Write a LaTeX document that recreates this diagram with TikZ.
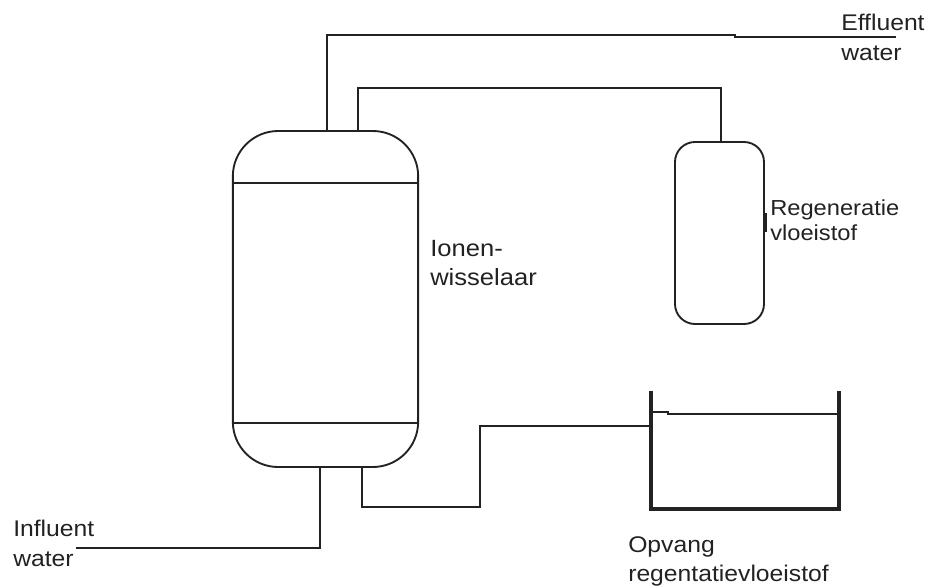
\documentclass[tikz,border=0pt]{standalone}
\usepackage{fontspec}
\setmainfont{Liberation Sans}[FakeStretch=1.09]
\usepackage{xcolor}
\usetikzlibrary{positioning}
\definecolor{ink}{HTML}{222222}
\tikzset{
  vessel/.style={draw=ink, line width=1.4pt, rounded corners=#1, inner sep=0pt, outer sep=0pt},
  pipe/.style={draw=ink, line width=1.4pt},
  wall/.style={draw=ink, line width=2.7pt},
  tag/.style={font=\fontsize{17pt}{22pt}\selectfont, align=left, anchor=north west, inner sep=0pt, text=ink},
}

\begin{document}
\begin{tikzpicture}[x=0.75pt, y=-0.75pt]
  \useasboundingbox (0,0) rectangle (927,585);

  % vessels
  \node[vessel=34pt, minimum width=139pt, minimum height=252pt] (ionen) at (325.5,299) {};
  \node[vessel=15pt, minimum width=66.75pt, minimum height=136.5pt] (regen) at (719.5,233) {};
  \coordinate (bandtop) at (325,183);
  \coordinate (bandlow) at (325,423);
  \draw[pipe] (ionen.west |- bandtop) -- (ionen.east |- bandtop);
  \draw[pipe] (ionen.west |- bandlow) -- (ionen.east |- bandlow);

  % tank
  \coordinate (tankleft) at (651,391);
  \coordinate (tankright) at (839,391);
  \coordinate (tankbase) at (651,509);
  \coordinate (tankinlet) at (651,426);
  \draw[wall] (tankleft) -- (tankbase) -- (tankright |- tankbase) -- (tankright);
  \draw[pipe, line width=1.1pt] (652,412) -- (668,412) -- (668,414) -- (839,414);

  % outlet tick
  \draw[wall] (765,213) -- (765,232);

  % labels
  \node[tag] (effluent) at (841,14) {Effluent\\water};
  \node[tag, font=\fontsize{16.3pt}{18.75pt}\selectfont] (regenlabel) at (770,199) {Regeneratie\\vloeistof};
  \node[tag, font=\fontsize{17.6pt}{22pt}\selectfont] (wisselaar) at (430,240) {Ionen-\\wisselaar};
  \node[tag] (opvang) at (628,536) {Opvang\\regentatievloeistof};
  \node[tag] (influent) at (13,520) {Influent\\water};
  \coordinate (effend) at (896,37);
  \coordinate (infend) at (76,548);

  % pipes
  \draw[pipe] (327,131) -- (327,35) -- (735,35) -- (735,37) -- (effend);
  \draw[pipe] (358,131) -- (358,88) -- (721,88) -- (721,142);
  \draw[pipe] (320,467) -- (320,548) -- (infend);
  \draw[pipe] (362,467) -- (362,507) -- (480,507) -- (480,426) -- (tankinlet);
\end{tikzpicture}
\end{document}
